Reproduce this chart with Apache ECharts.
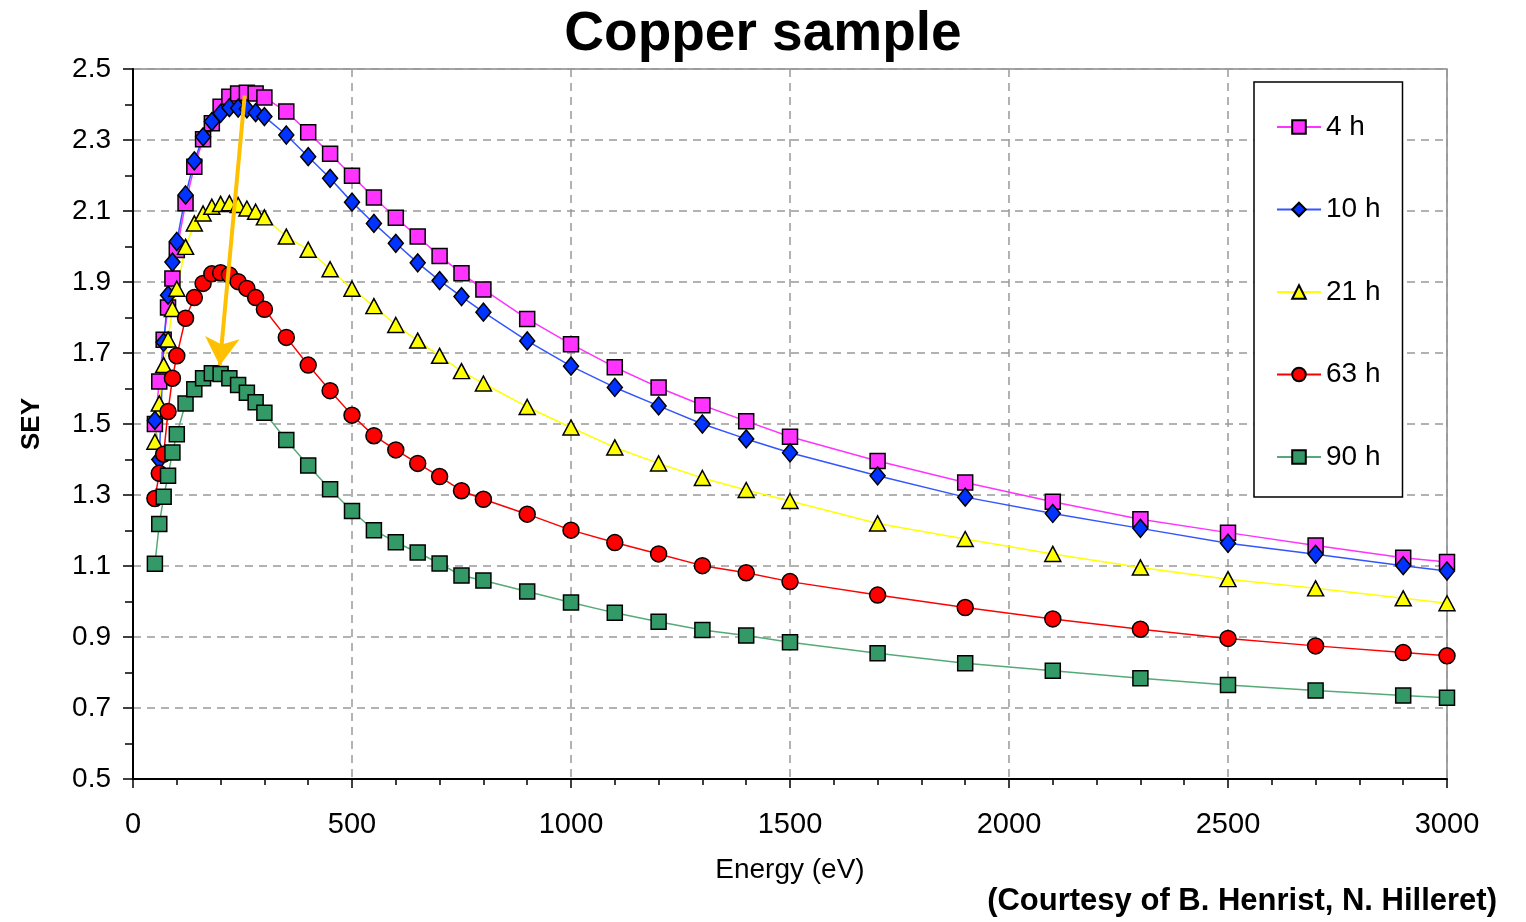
<!DOCTYPE html>
<html lang="en">
<head>
<meta charset="UTF-8">
<title>Copper sample</title>
<script src="https://cdn.jsdelivr.net/npm/echarts@6/dist/echarts.min.js"></script>
<style>
  html, body { margin: 0; padding: 0; background: #fff; }
  #main { width: 1526px; height: 922px; }
</style>
</head>
<body>
<div id="main"></div>
<script type="text/javascript">
// energies (eV) shared by all series
var energy = [50, 60, 70, 80, 90, 100, 120, 140, 160, 180, 200, 220, 240, 260, 280, 300,
  350, 400, 450, 500, 550, 600, 650, 700, 750, 800, 900, 1000, 1100, 1200, 1300, 1400, 1500,
  1700, 1900, 2100, 2300, 2500, 2700, 2900, 3000];

var sey4h = [1.50, 1.62, 1.737, 1.828, 1.91, 1.99, 2.122, 2.225, 2.302, 2.347, 2.394, 2.422, 2.431, 2.433, 2.431, 2.420,
  2.380, 2.322, 2.261, 2.199, 2.138, 2.081, 2.028, 1.973, 1.925, 1.879, 1.796, 1.725, 1.660, 1.603, 1.553, 1.508, 1.464,
  1.396, 1.335, 1.281, 1.232, 1.194, 1.158, 1.123, 1.111];
var sey10h = [1.51, 1.40, 1.73, 1.863, 1.956, 2.014, 2.145, 2.241, 2.309, 2.352, 2.375, 2.391, 2.390, 2.388, 2.377, 2.366,
  2.314, 2.253, 2.192, 2.125, 2.065, 2.009, 1.954, 1.904, 1.859, 1.815, 1.734, 1.663, 1.603, 1.551, 1.500, 1.458, 1.419,
  1.354, 1.294, 1.248, 1.206, 1.164, 1.133, 1.101, 1.086];
var sey21h = [1.45, 1.558, 1.666, 1.738, 1.824, 1.881, 1.999, 2.065, 2.093, 2.112, 2.120, 2.122, 2.117, 2.107, 2.098, 2.082,
  2.028, 1.991, 1.936, 1.881, 1.832, 1.779, 1.735, 1.692, 1.649, 1.614, 1.548, 1.490, 1.434, 1.389, 1.348, 1.314, 1.283,
  1.220, 1.176, 1.134, 1.096, 1.063, 1.037, 1.009, 0.995];
var sey63h = [1.290, 1.361, 1.415, 1.535, 1.629, 1.692, 1.798, 1.856, 1.896, 1.923, 1.926, 1.920, 1.901, 1.882, 1.856, 1.823,
  1.744, 1.666, 1.594, 1.525, 1.467, 1.427, 1.389, 1.352, 1.312, 1.288, 1.246, 1.201, 1.166, 1.134, 1.101, 1.081, 1.056,
  1.018, 0.983, 0.951, 0.922, 0.896, 0.875, 0.856, 0.847];
var sey90h = [1.106, 1.218, 1.295, 1.354, 1.420, 1.471, 1.558, 1.598, 1.629, 1.643, 1.641, 1.629, 1.610, 1.588, 1.561, 1.532,
  1.455, 1.383, 1.316, 1.255, 1.201, 1.167, 1.138, 1.107, 1.073, 1.059, 1.028, 0.997, 0.968, 0.943, 0.920, 0.904, 0.885,
  0.854, 0.826, 0.805, 0.784, 0.765, 0.749, 0.735, 0.729];

var seriesNames = ['4 h', '10 h', '21 h', '63 h', '90 h'];

// arrow: from the 4 h peak down to the 90 h peak
var arrowFrom = [255, 2.425];
var arrowTo = [198, 1.665];

function pairs(ys) {
  var out = [];
  for (var i = 0; i < energy.length; i++) out.push([energy[i], ys[i]]);
  return out;
}

var FONT = '"Liberation Sans", Arial, sans-serif';
var myChart = echarts.init(document.getElementById('main'));

function lineSeries(name, ys, symbol, size, fill, lineColor) {
  return {
    name: name,
    type: 'line',
    data: pairs(ys),
    symbol: symbol,
    symbolSize: size,
    showAllSymbol: true,
    animation: false,
    itemStyle: { color: fill, borderColor: '#000', borderWidth: 1.5 },
    lineStyle: { color: lineColor, width: 1.5 },
    emphasis: { disabled: true }
  };
}

var option = {
  backgroundColor: '#fff',
  animation: false,
  textStyle: { fontFamily: FONT },
  title: [
    { text: 'Copper sample', left: 'center', top: 2,
      textStyle: { fontSize: 55, fontWeight: 'bold', color: '#000', fontFamily: FONT } },
    { text: '(Courtesy of B. Henrist, N. Hilleret)', right: 24, bottom: 0,
      textStyle: { fontSize: 31, fontWeight: 'bold', color: '#000', fontFamily: FONT } }
  ],
  grid: { left: 133, right: 79, top: 69, bottom: 143, show: true,
    borderColor: '#888', borderWidth: 1.5, backgroundColor: 'transparent' },
  legend: {
    data: seriesNames,
    orient: 'vertical',
    left: 1254, top: 82,
    padding: [31, 22, 26, 22],
    itemGap: 54.5,
    itemWidth: 44, itemHeight: 17,
    borderColor: '#000', borderWidth: 1.5,
    backgroundColor: '#fff',
    textStyle: { fontSize: 28, color: '#000', fontFamily: FONT }
  },
  xAxis: {
    type: 'value', min: 0, max: 3000, interval: 500,
    name: 'Energy (eV)', nameLocation: 'middle', nameGap: 77,
    nameTextStyle: { fontSize: 28, color: '#000', fontFamily: FONT },
    axisLine: { show: true, onZero: false, lineStyle: { color: '#000', width: 2 } },
    axisTick: { show: true, inside: false, length: 9, lineStyle: { color: '#000', width: 1.5 } },
    minorTick: { show: true, splitNumber: 5, length: 6, lineStyle: { color: '#000', width: 1.5 } },
    axisLabel: { fontSize: 29, color: '#000', margin: 31, fontFamily: FONT,
      formatter: function (v) { return String(v); } },
    splitLine: { show: true, lineStyle: { color: '#999', width: 1.5, type: [8, 6] } }
  },
  yAxis: {
    type: 'value', min: 0.5, max: 2.5, interval: 0.2,
    name: 'SEY', nameLocation: 'middle', nameGap: 88,
    nameTextStyle: { fontSize: 26, fontWeight: 'bold', color: '#000', fontFamily: FONT },
    axisLine: { show: true, onZero: false, lineStyle: { color: '#000', width: 2 } },
    axisTick: { show: true, inside: false, length: 10, lineStyle: { color: '#000', width: 1.5 } },
    minorTick: { show: true, splitNumber: 2, length: 8, lineStyle: { color: '#000', width: 1.5 } },
    axisLabel: { fontSize: 28, color: '#000', margin: 22, fontFamily: FONT,
      formatter: function (v) { return v.toFixed(1); } },
    splitLine: { show: true, lineStyle: { color: '#999', width: 1.5, type: [8, 6] } }
  },
  series: [
    lineSeries('4 h', sey4h, 'rect', 15, '#FF33FF', '#FF33FF'),
    lineSeries('10 h', sey10h, 'diamond', [15, 18], '#0033FF', '#3355FF'),
    lineSeries('21 h', sey21h, 'triangle', [16, 15], '#FFFF00', '#FFFF00'),
    lineSeries('63 h', sey63h, 'circle', 16, '#FF0000', '#FF0000'),
    lineSeries('90 h', sey90h, 'rect', 15, '#339966', '#55AA77'),
    {
      name: 'arrow', type: 'line', data: [], z: 10, silent: true,
      markLine: {
        silent: true, animation: false,
        symbol: ['none', 'arrow'], symbolSize: [26, 28],
        label: { show: false },
        lineStyle: { color: '#FFC000', width: 4, type: 'solid' },
        itemStyle: { color: '#FFC000' },
        emphasis: { disabled: true },
        data: [[{ coord: arrowFrom }, { coord: arrowTo }]]
      }
    }
  ]
};
myChart.setOption(option);
</script>
</body>
</html>
